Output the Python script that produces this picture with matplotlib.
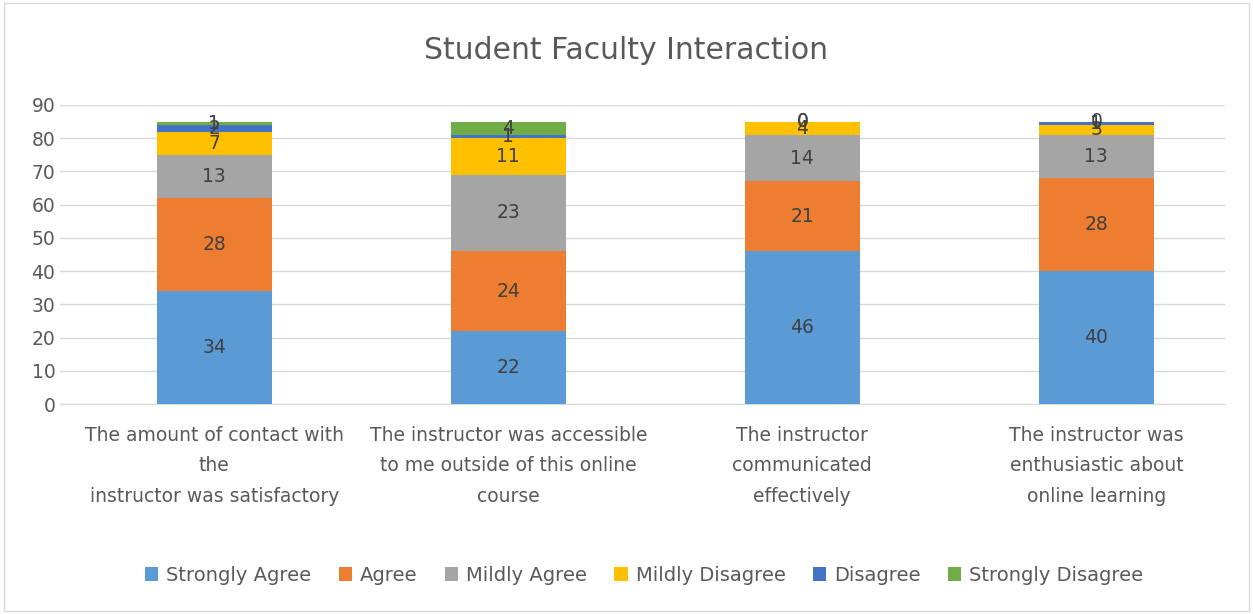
import numpy as np
import matplotlib.pyplot as plt

categories = ["The amount of contact with\nthe\ninstructor was satisfactory",
              "The instructor was accessible\nto me outside of this online\ncourse",
              "The instructor\ncommunicated\neffectively",
              "The instructor was\nenthusiastic about\nonline learning"]
series_names = ["Strongly Agree", "Agree", "Mildly Agree", "Mildly Disagree",
                "Disagree", "Strongly Disagree"]
strongly_agree = [34, 22, 46, 40]
agree = [28, 24, 21, 28]
mildly_agree = [13, 23, 14, 13]
mildly_disagree = [7, 11, 4, 3]
disagree = [2, 1, 0, 1]
strongly_disagree = [1, 4, 0, 0]
colors = ["#5B9BD5", "#ED7D31", "#A5A5A5", "#FFC000", "#4472C4", "#70AD47"]

fig = plt.figure(figsize=(12.53, 6.14), dpi=100)
ax = fig.add_axes([0.048, 0.342, 0.93, 0.487])

x = np.arange(len(categories))
bottom = np.zeros(len(categories))
all_series = [strongly_agree, agree, mildly_agree, mildly_disagree, disagree, strongly_disagree]
for name, vals, c in zip(series_names, all_series, colors):
    vals = np.array(vals)
    ax.bar(x, vals, 0.39, bottom=bottom, color=c, label=name, zorder=3)
    for xi, b, v in zip(x, bottom, vals):
        ax.text(xi, b + v / 2, str(v), ha='center', va='center', fontsize=13.5,
                color='#404040', zorder=4)
    bottom += vals

ax.set_xlim(-0.524, 3.439)
ax.set_ylim(0, 90)
ax.set_yticks(range(0, 91, 10))
ax.set_xticks(x)
ax.set_xticklabels(categories, fontsize=13.5, color='#595959', linespacing=1.75)
ax.tick_params(axis='y', labelsize=13.5, colors='#595959', length=0)
ax.tick_params(axis='x', length=0, pad=16)
ax.yaxis.grid(True, color='#D9D9D9', linewidth=1, zorder=0)
for s in ['top', 'right', 'left']:
    ax.spines[s].set_visible(False)
ax.spines['bottom'].set_color('#D9D9D9')

fig.text(0.5, 0.918, "Student Faculty Interaction", ha='center', va='center',
         fontsize=21.5, color='#595959')
fig.legend(loc='center', bbox_to_anchor=(0.514, 0.063), ncol=6, frameon=False,
           fontsize=14, handlelength=0.7, handleheight=0.7, columnspacing=1.4,
           handletextpad=0.4, labelcolor='#595959')

border = plt.Rectangle((0.003, 0.005), 0.994, 0.99, transform=fig.transFigure,
                       fill=False, edgecolor='#D9D9D9', linewidth=1)
fig.patches.append(border)

fig.savefig("out.png", dpi=100)
